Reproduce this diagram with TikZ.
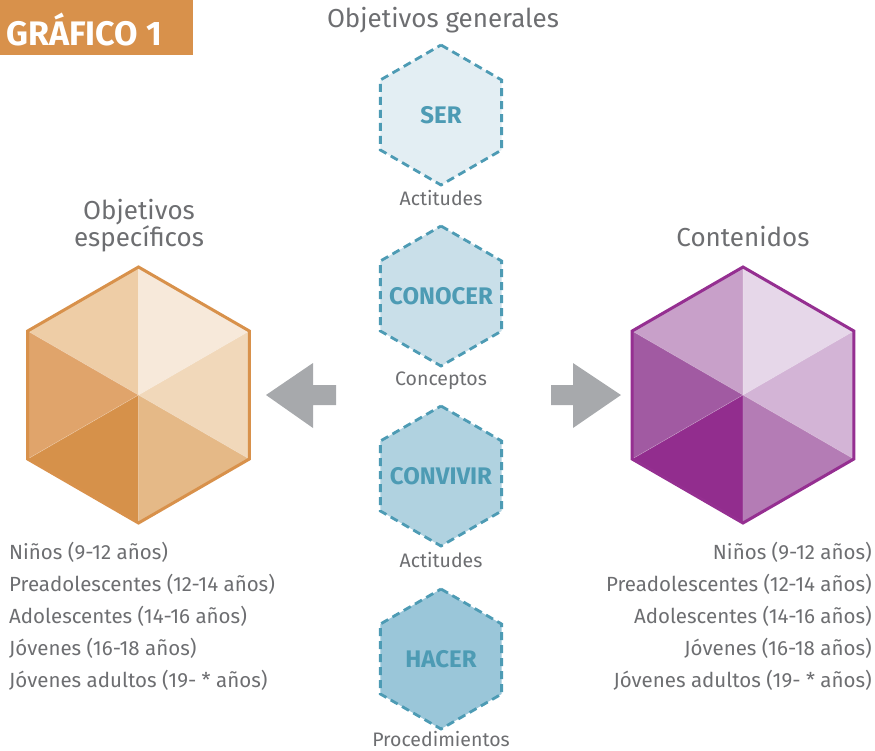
\documentclass[tikz,border=0pt]{standalone}
\usepackage{fontspec}
\setmainfont{Fira Sans}
\definecolor{hdr}{HTML}{D8914B}
\definecolor{txtgray}{HTML}{6D6E71}
\definecolor{arrgray}{HTML}{A7A9AC}
\definecolor{teal}{HTML}{4D9BB4}
\definecolor{hexA}{HTML}{E3EEF3}
\definecolor{hexB}{HTML}{C9DFE9}
\definecolor{hexC}{HTML}{B0D2E0}
\definecolor{hexD}{HTML}{9AC6D9}
\definecolor{oTL}{HTML}{EECDA6}
\definecolor{oTR}{HTML}{F7E9DA}
\definecolor{oR}{HTML}{F1D8BA}
\definecolor{oBR}{HTML}{E5B987}
\definecolor{oBL}{HTML}{D6914A}
\definecolor{oL}{HTML}{E0A46B}
\definecolor{oEdge}{HTML}{D8914B}
\definecolor{pTL}{HTML}{C8A0C9}
\definecolor{pTR}{HTML}{E6D7E9}
\definecolor{pR}{HTML}{D3B4D6}
\definecolor{pBR}{HTML}{B47CB5}
\definecolor{pBL}{HTML}{922D8E}
\definecolor{pL}{HTML}{A15AA2}
\definecolor{pEdge}{HTML}{952F91}
% #1 name, #2 cx, #3 cy, #4 radius
\newcommand\hexpts[4]{%
  \coordinate (#1c) at (#2,#3);
  \coordinate (#1t) at (#2,#3-#4);
  \coordinate (#1ur) at (#2+0.866*#4,#3-0.5*#4);
  \coordinate (#1lr) at (#2+0.866*#4,#3+0.5*#4);
  \coordinate (#1b) at (#2,#3+#4);
  \coordinate (#1ll) at (#2-0.866*#4,#3+0.5*#4);
  \coordinate (#1ul) at (#2-0.866*#4,#3-0.5*#4);}
\newcommand\smallhex[4]{% name, cy, fill colour, text
  \hexpts{#1}{441}{#2}{70}
  \filldraw[hexline,fill=#3] (#1t) -- (#1ur) -- (#1lr) -- (#1b) -- (#1ll) -- (#1ul) -- cycle;
  \node[hextext] (#1txt) at (#1c) {#4};}
\newcommand\bighex[9]{% name, cx, six colours, edge
  \hexpts{#1}{#2}{395}{128}
  \fill[#3] (#1c) -- (#1t) -- (#1ul) -- cycle;
  \fill[#4] (#1c) -- (#1t) -- (#1ur) -- cycle;
  \fill[#5] (#1c) -- (#1ur) -- (#1lr) -- cycle;
  \fill[#6] (#1c) -- (#1lr) -- (#1b) -- cycle;
  \fill[#7] (#1c) -- (#1b) -- (#1ll) -- cycle;
  \fill[#8] (#1c) -- (#1ll) -- (#1ul) -- cycle;
  \draw[white,opacity=0.25,line width=0.6pt] (#1t) -- (#1b) (#1ul) -- (#1lr) (#1ur) -- (#1ll);
  \draw[#9,line width=3pt,line join=miter] (#1t) -- (#1ur) -- (#1lr) -- (#1b) -- (#1ll) -- (#1ul) -- cycle;}
\begin{document}
\begin{tikzpicture}[x=1pt,y=-1pt,
  hexline/.style={draw=teal,line width=2.8pt,dash pattern=on 8pt off 5pt},
  hextext/.style={text=teal,font=\fontsize{24}{24}\selectfont\bfseries,inner sep=0pt},
  sublabel/.style={text=txtgray,font=\fontsize{19.5}{20}\selectfont,anchor=base,inner sep=0pt},
  title/.style={text=txtgray,font=\fontsize{26}{27}\selectfont,anchor=base,inner sep=0pt},
  listtext/.style={text=txtgray,font=\fontsize{20.5}{32}\selectfont,inner sep=0pt},
  blockarrow/.style={fill=arrgray}]
\useasboundingbox (0,0) rectangle (875,750);
% header
\fill[hdr] (0,0) rectangle (193,55);
\node[anchor=base west,inner sep=0pt,text=white,font=\fontsize{34}{34}\selectfont\bfseries] (hdrtxt) at (6,45) {GRÁFICO 1};
% central column
\node[title] (gen) at (443,27) {Objetivos generales};
\smallhex{ser}{115}{hexA}{SER}
\smallhex{con}{296}{hexB}{CONOCER}
\smallhex{cvv}{476}{hexC}{CONVIVIR}
\smallhex{hac}{659}{hexD}{HACER}
\node[sublabel] (l1) at (441,205) {Actitudes};
\node[sublabel] (l2) at (441,385) {Conceptos};
\node[sublabel] (l3) at (441,567) {Actitudes};
\node[sublabel] (l4) at (441,746) {Procedimientos};
% big hexagons
\bighex{L}{138.5}{oTL}{oTR}{oR}{oBR}{oBL}{oL}{oEdge}
\bighex{R}{743}{pTL}{pTR}{pR}{pBR}{pBL}{pL}{pEdge}
\node[title] (esp1) at (139,219) {Objetivos};
\node[title] (esp2) at (139,246) {específicos};
\node[title] (cont) at (743,246) {Contenidos};
% block arrows
\fill[blockarrow] (266,395) -- (313,363) -- (313,385) -- (336,385) -- (336,405) -- (313,405) -- (313,428) -- cycle;
\fill[blockarrow] (621,395) -- (573,363) -- (573,385) -- (551,385) -- (551,405) -- (573,405) -- (573,428) -- cycle;
% lists (base anchor = last line)
\node[listtext,anchor=base west,align=left] (listL) at (9,687)
  {Niños (9-12 años)\\Preadolescentes (12-14 años)\\Adolescentes (14-16 años)\\Jóvenes (16-18 años)\\Jóvenes adultos (19- * años)};
\node[listtext,anchor=base east,align=right] (listR) at (872,687)
  {Niños (9-12 años)\\Preadolescentes (12-14 años)\\Adolescentes (14-16 años)\\Jóvenes (16-18 años)\\Jóvenes adultos (19- * años)};
\end{tikzpicture}
\end{document}
